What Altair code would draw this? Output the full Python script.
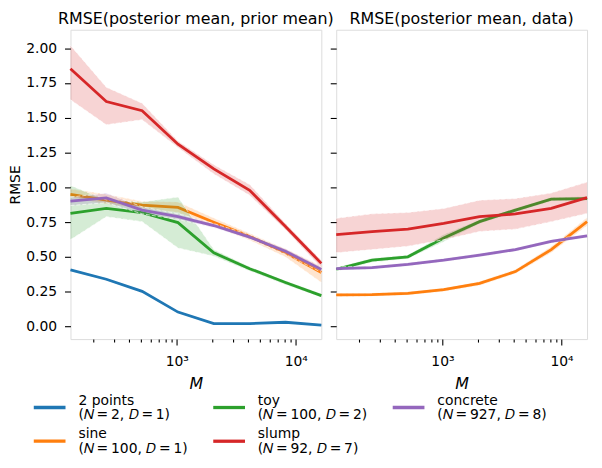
import altair as alt
import pandas as pd

M = [128, 256, 512, 1024, 2048, 4096, 8192, 16384]

names = ["2 points", "sine", "toy", "slump", "concrete"]
subtitles = ["(\U0001D441\u2009=\u20092, \U0001D437\u2009=\u20091)",
             "(\U0001D441\u2009=\u2009100, \U0001D437\u2009=\u20091)",
             "(\U0001D441\u2009=\u2009100, \U0001D437\u2009=\u20092)",
             "(\U0001D441\u2009=\u200992, \U0001D437\u2009=\u20097)",
             "(\U0001D441\u2009=\u2009927, \U0001D437\u2009=\u20098)"]
colors = ["#1f77b4", "#ff7f0e", "#2ca02c", "#d62728", "#9467bd"]
labels = [n + "\n" + s for n, s in zip(names, subtitles)]

# Left panel: RMSE(posterior mean, prior mean)
prior_mean = [
    [0.407, 0.340, 0.253, 0.104, 0.021, 0.021, 0.031, 0.010],
    [0.950, 0.908, 0.872, 0.856, 0.750, 0.648, 0.530, 0.388],
    [0.813, 0.849, 0.818, 0.747, 0.530, 0.416, 0.317, 0.222],
    [1.853, 1.617, 1.551, 1.310, 1.133, 0.979, 0.719, 0.454],
    [0.901, 0.924, 0.837, 0.790, 0.726, 0.643, 0.541, 0.411],
]
prior_lo = [
    [0.400, 0.333, 0.246, 0.097, 0.015, 0.015, 0.025, 0.004],
    [0.930, 0.880, 0.850, 0.820, 0.720, 0.620, 0.500, 0.317],
    [0.624, 0.790, 0.754, 0.565, 0.506, 0.400, 0.300, 0.210],
    [1.630, 1.450, 1.487, 1.286, 1.097, 0.943, 0.695, 0.423],
    [0.870, 0.890, 0.810, 0.770, 0.710, 0.630, 0.520, 0.390],
]
prior_hi = [
    [0.414, 0.347, 0.260, 0.111, 0.027, 0.027, 0.037, 0.016],
    [0.990, 0.950, 0.900, 0.896, 0.780, 0.670, 0.560, 0.435],
    [1.014, 0.910, 0.895, 0.931, 0.553, 0.430, 0.330, 0.235],
    [2.020, 1.720, 1.605, 1.333, 1.163, 1.021, 0.742, 0.477],
    [0.930, 0.960, 0.860, 0.810, 0.740, 0.660, 0.560, 0.430],
]

# Right panel: RMSE(posterior mean, data)  (no "2 points" curve)
data_mean = [
    None,
    [0.227, 0.229, 0.239, 0.265, 0.310, 0.395, 0.553, 0.754],
    [0.411, 0.477, 0.501, 0.636, 0.754, 0.837, 0.915, 0.920],
    [0.660, 0.683, 0.700, 0.742, 0.790, 0.809, 0.849, 0.927],
    [0.416, 0.423, 0.447, 0.477, 0.513, 0.553, 0.612, 0.652],
]
data_lo = [
    None,
    [0.215, 0.217, 0.227, 0.252, 0.296, 0.380, 0.530, 0.725],
    [0.398, 0.463, 0.488, 0.610, 0.740, 0.824, 0.902, 0.906],
    [0.530, 0.553, 0.577, 0.624, 0.683, 0.700, 0.754, 0.813],
    [0.404, 0.411, 0.435, 0.465, 0.501, 0.541, 0.600, 0.640],
]
data_hi = [
    None,
    [0.239, 0.241, 0.251, 0.278, 0.324, 0.410, 0.576, 0.783],
    [0.424, 0.491, 0.514, 0.662, 0.768, 0.850, 0.928, 0.934],
    [0.778, 0.810, 0.820, 0.849, 0.908, 0.920, 0.960, 1.038],
    [0.428, 0.435, 0.459, 0.489, 0.525, 0.565, 0.624, 0.664],
]

y_ticks = [0, 0.25, 0.5, 0.75, 1.0, 1.25, 1.5, 1.75, 2.0]
x_ticks = [200, 300, 400, 500, 600, 700, 800, 900, 1000,
           2000, 3000, 4000, 5000, 6000, 7000, 8000, 9000, 10000]

FONT = "DejaVu Sans"
legend_order = [0, 2, 4, 1, 3]
color_scale = alt.Scale(domain=[labels[i] for i in legend_order],
                        range=[colors[i] for i in legend_order])

x_axis = alt.Axis(
    values=x_ticks, title="M", titleFontStyle="italic", titleFontSize=16,
    titleFont=FONT, titleFontWeight="normal", titlePadding=7,
    labelExpr="datum.value == 1000 ? '10\u00b3' : datum.value == 10000 ? '10\u2074' : ''",
    labelFontSize=14, labelFont=FONT, labelPadding=10, labelColor="black",
    tickSize={"condition": {"test": "datum.value == 1000 || datum.value == 10000", "value": 6}, "value": 3},
    tickColor="black", tickWidth=1.1, domain=False, grid=False, labelFlush=False,
)


def x_enc():
    return alt.X("M:Q", scale=alt.Scale(type="log", domain=[128, 16384], nice=False), axis=x_axis)


def y_axis(show):
    if show:
        return alt.Axis(values=y_ticks, format=".2f", title="RMSE", titleFont=FONT,
                        titleFontSize=14, titleFontWeight="normal", titlePadding=3,
                        labelFontSize=14, labelFont=FONT, labelPadding=8, labelColor="black",
                        tickSize=6, tickColor="black", tickWidth=1.1, domain=False, grid=False)
    return alt.Axis(values=y_ticks, labels=False, title=None, tickSize=6, tickColor="black",
                    tickWidth=1.1, domain=False, grid=False)


y_scale = alt.Scale(domain=[-0.09, 2.133], nice=False, zero=False)


def panel(means, los, his, title, show):
    layers = []
    for i in range(len(names)):
        if means[i] is None:
            continue
        df = pd.DataFrame({"M": M, "mean": means[i], "lo": los[i], "hi": his[i],
                           "label": labels[i]})
        base = alt.Chart(df)
        yax = y_axis(show)
        area = base.mark_area(color=colors[i], opacity=0.2).encode(
            x=x_enc(), y=alt.Y("lo:Q", scale=y_scale, axis=yax), y2="hi:Q")
        e_lo = base.mark_line(color="white", strokeDash=[4, 2], strokeWidth=0.8, opacity=0.8).encode(
            x=x_enc(), y=alt.Y("lo:Q", scale=y_scale, axis=yax))
        e_hi = base.mark_line(color="white", strokeDash=[4, 2], strokeWidth=0.8, opacity=0.8).encode(
            x=x_enc(), y=alt.Y("hi:Q", scale=y_scale, axis=yax))
        line = base.mark_line(strokeWidth=2.8).encode(
            x=x_enc(), y=alt.Y("mean:Q", scale=y_scale, axis=yax),
            color=alt.Color("label:N", scale=color_scale, legend=alt.Legend(
                orient="none", legendX=-39, legendY=363, columns=3, title=None,
                direction="horizontal", gridAlign="all",
                symbolType="stroke", symbolSize=1024, symbolStrokeWidth=3.3,
                labelExpr="split(datum.label, '\\n')", labelFontSize=14, labelFont=FONT,
                labelColor="black", labelLimit=300, labelOffset=11, labelBaseline="bottom",
                columnPadding=18, rowPadding=1)))
        layers += [area, e_lo, e_hi, line]
    return alt.layer(*layers).properties(
        width=253, height=312,
        title=alt.TitleParams(title, fontSize=16, font=FONT, fontWeight="normal", offset=3))


left = panel(prior_mean, prior_lo, prior_hi, "RMSE(posterior mean, prior mean)", True)
right = panel(data_mean, data_lo, data_hi, "RMSE(posterior mean, data)", False)

chart = alt.hconcat(left, right, spacing=15, bounds="flush").properties(
    padding={"left": 0, "top": 0, "right": 0, "bottom": 0}
).configure_view(stroke="black", strokeWidth=1.8).configure(
    background="white", style={"guide-label": {"lineHeight": 15}})

chart.save("out.html", embed_options={"renderer": "svg", "actions": False})
